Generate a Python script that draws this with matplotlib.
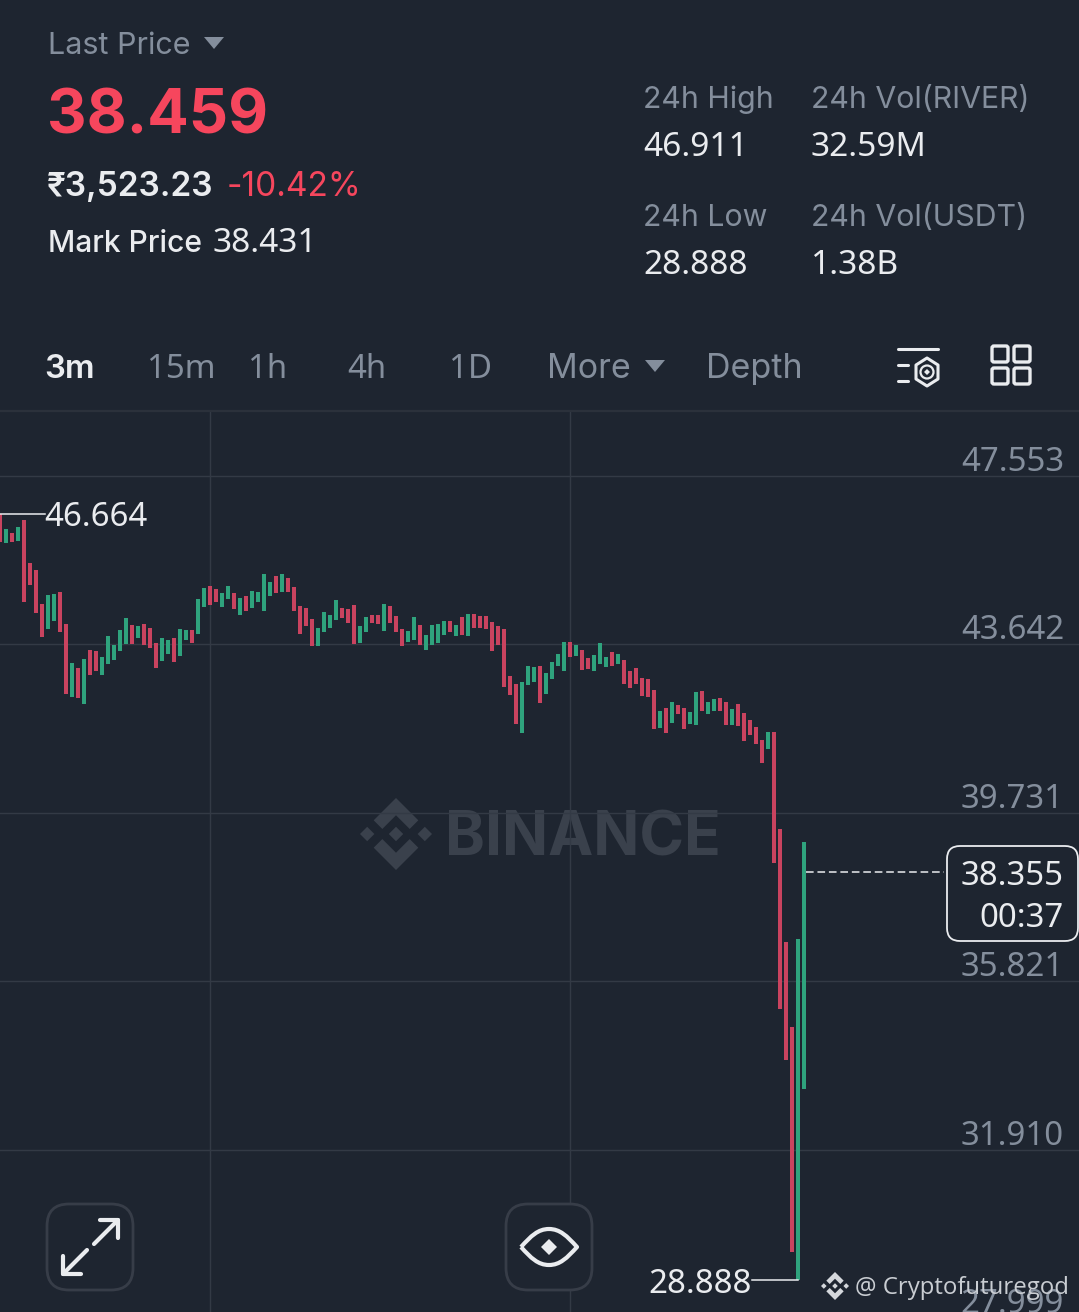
import matplotlib
matplotlib.use("Agg")
import matplotlib.pyplot as plt
from matplotlib.patches import FancyBboxPatch, Polygon, Circle, PathPatch
from matplotlib.path import Path
from matplotlib.transforms import ScaledTranslation

plt.rcParams['font.family'] = ['Inter', 'DejaVu Sans']
NUM = ['Noto Sans', 'DejaVu Sans']  # tabular digits like the app

# colours
BG = "#1E2530"
GRID = "#333A45"
GRAY = "#848E9C"
WHITE = "#EAECEF"
RED = "#F6465D"
CANDLE_RED = "#C9435F"
CANDLE_GREEN = "#2FA37D"
MARK = "#3A414C"

# 3m candles
candle_high = [
    46.66, 46.32, 46.24, 46.38, 46.53, 45.53, 45.36, 44.58, 44.78, 44.82, 44.85, 44.11, 43.21, 43.09, 43.30,
    43.51, 43.50, 43.35, 43.84, 43.63, 43.97, 44.25, 44.09, 44.06, 44.11, 44.03, 43.67, 43.79, 43.75, 43.80,
    44.00, 43.98, 43.97, 44.70, 44.96, 45.00, 44.94, 44.84, 44.99, 44.84, 44.73, 44.77, 44.88, 44.85, 45.27,
    45.10, 45.23, 45.27, 45.19, 44.97, 44.54, 44.50, 44.23, 44.03, 44.39, 44.33, 44.68, 44.49, 44.46, 44.55,
    44.06, 44.27, 44.33, 44.32, 44.58, 44.54, 44.30, 44.00, 43.95, 44.29, 44.10, 43.86, 44.09, 44.12, 44.18,
    44.19, 44.09, 44.28, 44.36, 44.34, 44.30, 44.30, 44.16, 44.07, 44.00, 42.90, 42.73, 42.77, 43.15, 43.12,
    43.14, 42.98, 43.24, 43.42, 43.70, 43.69, 43.64, 43.51, 43.32, 43.39, 43.68, 43.36, 43.46, 43.41, 43.29,
    43.03, 43.10, 42.86, 42.84, 42.59, 42.11, 42.16, 42.31, 42.24, 42.16, 42.07, 42.54, 42.56, 42.31, 42.38,
    42.40, 42.31, 42.14, 42.25, 42.06, 41.89, 41.73, 41.43, 41.60, 41.60, 39.35, 36.74, 34.76, 36.80, 39.05,
]
candle_low = [
    46.03, 46.00, 46.03, 46.04, 44.62, 45.02, 44.37, 43.82, 44.00, 44.19, 43.94, 42.50, 42.43, 42.41, 42.27,
    42.93, 43.03, 42.93, 43.20, 43.28, 43.48, 43.65, 43.65, 43.79, 43.63, 43.57, 43.09, 43.25, 43.41, 43.24,
    43.38, 43.75, 43.67, 43.88, 44.52, 44.57, 44.63, 44.51, 44.69, 44.46, 44.33, 44.42, 44.50, 44.63, 44.43,
    44.77, 44.84, 44.85, 44.85, 44.42, 43.89, 44.06, 43.61, 43.61, 43.93, 44.03, 44.20, 44.25, 44.13, 43.65,
    43.68, 43.94, 44.13, 44.11, 43.96, 44.15, 43.93, 43.61, 43.70, 43.75, 43.64, 43.51, 43.63, 43.68, 43.86,
    43.93, 43.85, 43.86, 43.84, 44.02, 44.02, 44.00, 43.49, 43.62, 42.66, 42.46, 41.80, 41.58, 42.70, 42.76,
    42.29, 42.50, 42.85, 43.14, 43.03, 43.35, 43.38, 43.06, 43.07, 43.03, 43.20, 43.11, 43.15, 43.19, 42.73,
    42.64, 42.72, 42.45, 42.42, 41.68, 41.70, 41.59, 41.81, 42.03, 41.67, 41.79, 41.77, 42.11, 42.04, 42.11,
    42.10, 41.78, 41.78, 41.75, 41.40, 41.55, 41.34, 40.89, 41.21, 38.56, 35.18, 34.00, 29.53, 28.888, 33.32,
]
candle_up = [
    0, 1, 0, 1, 0, 0, 0, 0, 1, 1, 0, 0, 1, 0, 1,
    0, 0, 1, 1, 1, 1, 1, 0, 1, 0, 0, 0, 1, 1, 0,
    1, 1, 0, 1, 1, 0, 0, 1, 1, 0, 1, 0, 1, 1, 1,
    1, 0, 1, 0, 0, 0, 0, 0, 1, 1, 1, 1, 0, 0, 0,
    1, 1, 0, 0, 1, 0, 0, 0, 1, 1, 0, 1, 1, 1, 1,
    0, 1, 0, 1, 0, 0, 0, 0, 0, 0, 0, 0, 1, 1, 1,
    0, 1, 1, 1, 1, 0, 1, 0, 0, 1, 1, 1, 0, 1, 0,
    0, 0, 0, 0, 0, 1, 0, 1, 0, 0, 1, 1, 0, 1, 1,
    0, 0, 1, 0, 0, 0, 0, 0, 1, 0, 0, 0, 0, 1, 1,
]

price_ticks = [47.553, 43.642, 39.731, 35.821, 31.910, 27.999]
price_labels = ["47.553", "43.642", "39.731", "35.821", "31.910", "27.999"]
time_grid = [35, 95]
high_price = 46.664
low_price = 28.888
last_price = 38.355
countdown = "00:37"

W, H = 1079, 1312
fig = plt.figure(figsize=(W / 100, H / 100), dpi=100, facecolor=BG)


def px(size):
    return size * 0.72


def add_layer():
    layer = fig.add_axes([0, 0, 1, 1], facecolor="none")
    layer.set_xlim(0, W)
    layer.set_ylim(H, 0)
    layer.axis("off")
    return layer


def logo(layer, cx, cy, s, color, z=1):
    top = [(0, -1), (.62, -.38), (.38, -.14), (0, -.52), (-.38, -.14), (-.62, -.38)]
    for sign in (1, -1):
        layer.add_patch(Polygon([(cx + a * s, cy + sign * b * s) for a, b in top], color=color, lw=0, zorder=z))
    for dx in (-.8, 0, .8):
        d = .2 * s
        layer.add_patch(Polygon([(cx + dx * s, cy - d), (cx + dx * s + d, cy), (cx + dx * s, cy + d),
                                 (cx + dx * s - d, cy)], color=color, lw=0, zorder=z))


back = add_layer()

# watermark
logo(back, 396, 834, 36, MARK)
back.text(445, 855, "BINANCE", fontsize=px(60.5), fontweight="bold", color=MARK, va="baseline")

# header
back.text(48, 54, "Last Price", fontsize=px(30.5), color=GRAY, va="baseline")
back.add_patch(Polygon([(204, 37), (224, 37), (214, 49)], color=GRAY, lw=0))
back.text(47, 134, "38.459", fontsize=px(61.5), fontweight="bold", color=RED, va="baseline")
back.text(47, 196, "₹3,523.23", fontsize=px(33.5), fontweight="semibold", color=WHITE, va="baseline")
back.text(227, 196, "-10.42%", fontsize=px(33.5), color=RED, va="baseline")
back.text(48, 252, "Mark Price", fontsize=px(30), fontweight="medium", color=WHITE, va="baseline")
back.text(213, 252, "38.431", fontsize=px(33.5), fontweight="medium", color=WHITE, family=NUM, va="baseline")

stat_labels = [(643, 108, "24h High"), (811, 108, "24h Vol(RIVER)"), (643, 226, "24h Low"), (811, 226, "24h Vol(USDT)")]
stat_values = [(643, 156, "46.911"), (811, 156, "32.59M"), (643, 274, "28.888"), (811, 274, "1.38B")]
for x, y, label in stat_labels:
    back.text(x, y, label, fontsize=px(30.3), color=GRAY, va="baseline")
for x, y, label in stat_values:
    back.text(x, y, label, fontsize=px(33.5), color=WHITE, family=NUM, va="baseline")

# interval tabs
back.text(44, 378, "3m", fontsize=px(33), fontweight="semibold", color=WHITE, va="baseline")
for x, label in [(147, "15m"), (248, "1h"), (347, "4h"), (449, "1D")]:
    back.text(x, 378, label, fontsize=px(33), color=GRAY, family=NUM, va="baseline")
for x, label in [(547, "More"), (706, "Depth")]:
    back.text(x, 378, label, fontsize=px(34), color=GRAY, va="baseline")
back.add_patch(Polygon([(645, 360), (665, 360), (655, 372)], color=GRAY, lw=0))

# settings icon
back.plot([898, 938], [349, 349], color=WHITE, lw=2.2, solid_capstyle="round")
back.plot([898, 908], [365, 365], color=WHITE, lw=2.2, solid_capstyle="round")
back.plot([898, 908], [381, 381], color=WHITE, lw=2.2, solid_capstyle="round")
back.add_patch(Polygon([(927, 358), (938, 365), (938, 379), (927, 386), (916, 379), (916, 365)],
                       fill=False, ec=WHITE, lw=2.2, joinstyle="round"))
back.add_patch(Circle((927, 372), 6.5, fill=False, ec=WHITE, lw=1.6))
back.add_patch(Polygon([(927, 369), (930, 372), (927, 375), (924, 372)], color=WHITE, lw=0))

# layout icon
for x in (992, 1014):
    for y in (346, 368):
        back.add_patch(FancyBboxPatch((x, y), 16, 16, boxstyle="round,pad=0,rounding_size=2",
                                      fill=False, ec=WHITE, lw=2.4))

back.plot([0, W], [411, 411], color="#2B313B", lw=1.6)

# chart
scale = 168.5 / (price_ticks[0] - price_ticks[1])
chart_top, chart_bottom = 412, 1330
ax = fig.add_axes([0, (H - chart_bottom) / H, 1, (chart_bottom - chart_top) / H], facecolor="none")
ax.set_xlim(0.05, 179.88)
ax.set_ylim(price_ticks[0] - (chart_bottom - 476) / scale, price_ticks[0] + (476 - chart_top) / scale)
for spine in ax.spines.values():
    spine.set_visible(False)
ax.set_xticks(time_grid)
ax.set_xticklabels([])
ax.set_yticks(price_ticks)
ax.set_yticklabels(price_labels, family=NUM)
ax.yaxis.tick_right()
ax.tick_params(axis="x", length=0)
ax.tick_params(axis="y", length=0, pad=-px(15), labelsize=px(33), labelcolor=GRAY)
label_shift = ScaledTranslation(0, -3 / 100, fig.dpi_scale_trans)
for tick in ax.yaxis.get_major_ticks():
    tick.label2.set_ha("right")
    tick.label2.set_va("bottom")
    tick.label2.set_transform(tick.label2.get_transform() + label_shift)
ax.grid(True, color=GRID, lw=1.0)
ax.set_axisbelow(True)

idx = list(range(len(candle_high)))
heights = [h - l for h, l in zip(candle_high, candle_low)]
colors = [CANDLE_GREEN if u else CANDLE_RED for u in candle_up]
ax.bar(idx, heights, bottom=candle_low, width=0.6, color=colors, linewidth=0, zorder=3)

# high / low / last markers
ax.plot([0.05, 7.5], [high_price, high_price], color=WHITE, lw=1.1, zorder=4)
ax.annotate(f"{high_price:.3f}", (7.5, high_price), xytext=(0, -px(12)), textcoords="offset points",
            fontsize=px(33), color=WHITE, family=NUM, va="baseline", ha="left", zorder=5)
ax.plot([125.4, 133], [low_price, low_price], color=WHITE, lw=1.1, zorder=4)
ax.annotate(f"{low_price:.3f}", (125.4, low_price), xytext=(0, -px(13)), textcoords="offset points",
            fontsize=px(33), color=WHITE, family=NUM, va="baseline", ha="right", zorder=5)
ax.plot([134.3, 157.4], [last_price, last_price], color=WHITE, lw=1.1, dashes=(5, 2.5), zorder=4)

front = add_layer()
front.add_patch(FancyBboxPatch((947, 846), 131, 95, boxstyle="round,pad=0,rounding_size=13",
                               fc=BG, ec=WHITE, lw=1.3))
front.text(1064, 885, f"{last_price:.3f}", fontsize=px(33), color=WHITE, family=NUM, ha="right", va="baseline")
front.text(1064, 927, countdown, fontsize=px(33), color=WHITE, family=NUM, ha="right", va="baseline")

# round buttons
for x in (47, 506):
    front.add_patch(FancyBboxPatch((x, 1204), 86, 86, boxstyle="round,pad=0,rounding_size=22",
                                   fc=BG, ec="#373D48", lw=2))

# expand icon
for line in [
    ([94, 117], [1244, 1221]), ([100, 118], [1220, 1220]), ([118, 118], [1220, 1238]),
    ([87, 64], [1250, 1273]), ([63, 63], [1256, 1274]), ([63, 81], [1274, 1274]),
]:
    front.plot(line[0], line[1], color=WHITE, lw=3, solid_capstyle="round")

# eye icon
eye = Path(
    [(521, 1247), (531, 1236), (538, 1229), (549, 1229), (560, 1229), (567, 1236), (577, 1247),
     (567, 1258), (560, 1265), (549, 1265), (538, 1265), (531, 1258), (521, 1247)],
    [Path.MOVETO] + [Path.CURVE4] * 12,
)
front.add_patch(PathPatch(eye, fill=False, ec=WHITE, lw=3, joinstyle="round"))
front.add_patch(Polygon([(549, 1239), (557, 1247), (549, 1255), (541, 1247)], color=WHITE, lw=0))

# author watermark
logo(front, 835, 1286, 14, "#D5D8DC")
front.text(855, 1294, "@ Cryptofuturegod", fontsize=px(24), color="#C9CDD2", family="Open Sans", va="baseline")

fig.savefig("out.png", dpi=100, facecolor=BG)
